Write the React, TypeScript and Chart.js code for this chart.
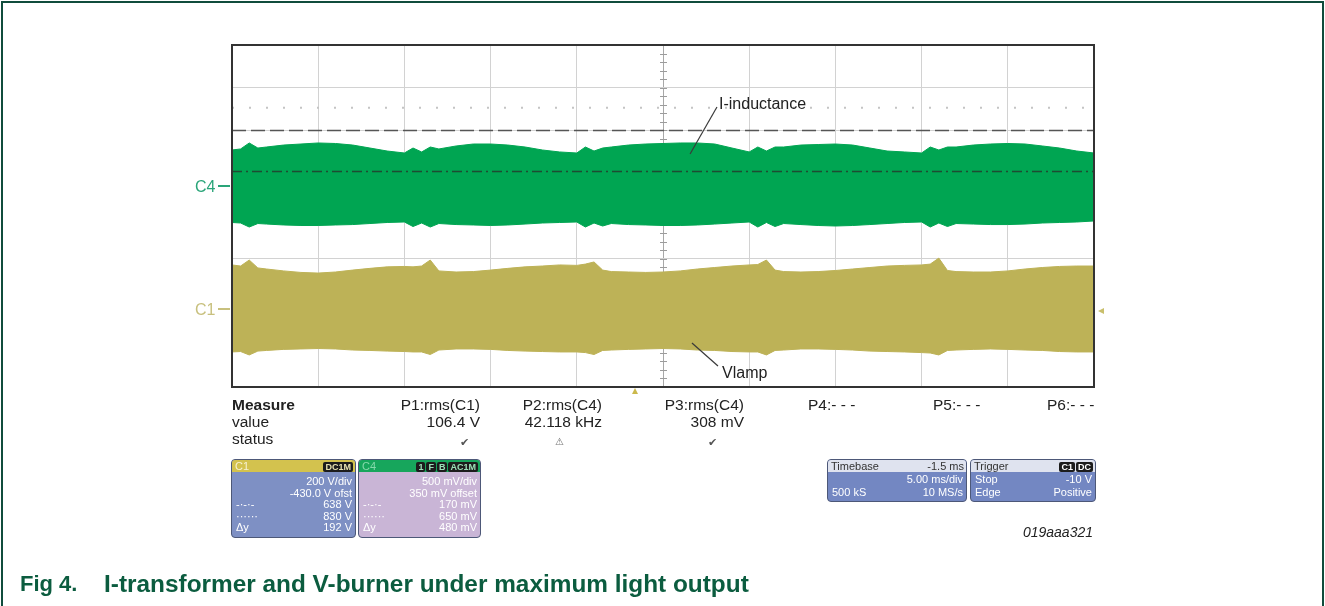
import React, { useEffect, useRef } from "react";
import { Chart, registerables } from "chart.js";

Chart.register(...registerables);

// ---------- data ----------
// sample times across the screen (ms), 5 ms/div, 10 divisions
const TIME_MS = [
  0, 0.5, 1, 1.5, 2, 3, 4, 5, 6, 7, 8, 9, 10, 10.5, 11, 11.5, 12, 13, 14, 15, 16, 17, 18, 19, 20,
  20.5, 21, 21.5, 22, 23, 24, 25, 26, 27, 28, 29, 30, 30.5, 31, 31.5, 32, 33, 34, 35, 36, 37, 38,
  39, 40, 40.5, 41, 41.5, 42, 43, 44, 45, 46, 47, 48, 49, 50,
];
// C4 (I-inductance) envelope, mV
const C4_TOP_MV = [
  422, 434, 504, 445, 457, 480, 492, 504, 498, 480, 445, 410, 387, 445, 399, 457, 434, 469, 492, 492,
  480, 457, 422, 399, 387, 457, 410, 445, 457, 480, 492, 498, 504, 504, 492, 445, 399, 457, 410, 457,
  457, 480, 486, 492, 480, 445, 410, 399, 387, 457, 422, 457, 457, 480, 492, 498, 492, 469, 445, 410, 387,
];
const C4_BOTTOM_MV = [
  -426, -432, -479, -438, -444, -455, -461, -461, -455, -450, -438, -426, -420, -473, -432, -479, -438,
  -450, -455, -461, -455, -444, -432, -426, -420, -479, -432, -467, -438, -450, -455, -461, -461, -455,
  -444, -432, -420, -479, -426, -473, -438, -450, -461, -467, -461, -450, -438, -426, -420, -479, -432,
  -473, -438, -444, -450, -450, -444, -432, -426, -420, -408,
];
// C1 (Vlamp) envelope, V
const C1_TOP_V = [
  201, 196, 224, 187, 182, 173, 166, 163, 168, 177, 185, 192, 194, 192, 196, 224, 173, 168, 170, 177,
  185, 192, 196, 201, 199, 205, 215, 177, 170, 168, 166, 168, 173, 182, 189, 196, 201, 203, 224, 177,
  170, 168, 170, 175, 182, 189, 196, 199, 201, 205, 233, 175, 170, 168, 168, 173, 182, 189, 194, 196, 196,
];
const C1_BOTTOM_V = [
  -206, -204, -220, -202, -199, -194, -192, -190, -192, -197, -199, -202, -204, -206, -206, -218, -197,
  -192, -192, -194, -199, -202, -204, -206, -206, -209, -218, -199, -197, -194, -192, -190, -192, -197,
  -199, -204, -206, -206, -220, -199, -197, -192, -192, -194, -197, -202, -204, -206, -209, -211, -220,
  -199, -197, -194, -192, -194, -197, -199, -204, -206, -206,
];
// cursors / reference levels (C4 units, mV)
const CURSOR_DASHDOT_MV = 170;
const CURSOR_DASHED_MV = 650;
const REF_DOTTED_MV = 915;
// screen ranges
const X_RANGE_MS = [0, 50];
const GRID_DIV_RANGE = [-4, 4];
const C4_RANGE_MV = [-2350, 1650]; // 500 mV/div, 350 mV offset
const C1_RANGE_V = [-370, 1230]; // 200 V/div, -430 V offset
// annotation leaders [time ms, divisions]
const LEADER_I_INDUCTANCE = [
  [26.57, 1.45],
  [28.13, 2.55],
];
const LEADER_VLAMP = [
  [26.68, -2.97],
  [28.19, -3.51],
];

const W = 1325;
const H = 606;
const FONT = '"Liberation Sans", Arial, Helvetica, sans-serif';
const GREEN = "#00a552";
const OLIVE = "#bdb257";

function Txt(props: {
  x: number;
  y: number;
  children: React.ReactNode;
  align?: "left" | "right";
  size?: number;
  color?: string;
  weight?: number;
  italic?: boolean;
  extra?: React.CSSProperties;
}) {
  const { x, y, children, align = "left", size = 15, color = "#222", weight = 400, italic = false } = props;
  const lh = Math.round(size * 1.2);
  const style: React.CSSProperties = {
    position: "absolute",
    top: y - lh / 2,
    fontSize: size,
    lineHeight: lh + "px",
    color,
    fontWeight: weight,
    fontStyle: italic ? "italic" : "normal",
    fontFamily: FONT,
    whiteSpace: "pre",
    ...(props.extra || {}),
  };
  if (align === "left") style.left = x;
  else style.right = W - x;
  return <div style={style}>{children}</div>;
}

function Badge(props: { children: React.ReactNode; color?: string }) {
  return (
    <span
      style={{
        background: "#1c1c1c",
        color: props.color || "#e6e0b0",
        borderRadius: 2,
        padding: "0 2px",
        marginLeft: 1,
        fontSize: 9,
        fontWeight: 700,
        lineHeight: "10px",
        display: "inline-block",
      }}
    >
      {props.children}
    </span>
  );
}

function ScopeBox(props: {
  left: number;
  top: number;
  width: number;
  height: number;
  headBg: string;
  headColor: string;
  bodyBg: string;
  headLeft: React.ReactNode;
  headRight: React.ReactNode;
  rows: string[][];
  rowH: number;
  padTop: number;
}) {
  const p = props;
  return (
    <div
      style={{
        position: "absolute",
        left: p.left,
        top: p.top,
        width: p.width,
        height: p.height,
        background: p.bodyBg,
        borderRadius: 4,
        border: "1px solid #4d5878",
        boxSizing: "border-box",
        overflow: "hidden",
        fontFamily: FONT,
        fontSize: 11,
        color: "#ffffff",
      }}
    >
      <div
        style={{
          height: 12,
          background: p.headBg,
          display: "flex",
          justifyContent: "space-between",
          alignItems: "center",
          padding: "0 2px 0 3px",
          color: p.headColor,
          lineHeight: "12px",
        }}
      >
        <span>{p.headLeft}</span>
        <span>{p.headRight}</span>
      </div>
      <div style={{ padding: `${p.padTop}px 3px 0 4px` }}>
        {p.rows.map((r, i) => (
          <div
            key={i}
            style={{ display: "flex", justifyContent: "space-between", height: p.rowH, lineHeight: p.rowH + "px" }}
          >
            <span>{r[0]}</span>
            <span>{r[1]}</span>
          </div>
        ))}
      </div>
    </div>
  );
}

export default function App() {
  const canvasRef = useRef<HTMLCanvasElement>(null);

  useEffect(() => {
    const canvas = canvasRef.current;
    if (!canvas) return;

    const decor = {
      id: "scopeDecor",
      beforeDatasetsDraw(chart: any) {
        const { ctx, scales } = chart;
        const xs = scales.x;
        const ys = scales.y;
        const cx = xs.getPixelForValue((X_RANGE_MS[0] + X_RANGE_MS[1]) / 2);
        const cy = ys.getPixelForValue(0);
        ctx.save();
        ctx.strokeStyle = "#9c9c9c";
        ctx.lineWidth = 1;
        ctx.beginPath();
        for (let v = GRID_DIV_RANGE[0]; v <= GRID_DIV_RANGE[1] + 1e-6; v += 0.2) {
          const py = Math.round(ys.getPixelForValue(v)) + 0.5;
          ctx.moveTo(cx - 3, py);
          ctx.lineTo(cx + 4, py);
        }
        for (let t = X_RANGE_MS[0]; t <= X_RANGE_MS[1] + 1e-6; t += 1) {
          const px = Math.round(xs.getPixelForValue(t)) + 0.5;
          ctx.moveTo(px, cy - 3);
          ctx.lineTo(px, cy + 4);
        }
        ctx.stroke();
        ctx.restore();
      },
      afterDatasetsDraw(chart: any) {
        const { ctx, chartArea, scales } = chart;
        const xs = scales.x;
        const ys = scales.y;
        ctx.save();
        ctx.strokeStyle = "#333333";
        ctx.lineWidth = 2;
        ctx.strokeRect(chartArea.left, chartArea.top, chartArea.right - chartArea.left, chartArea.bottom - chartArea.top);
        ctx.strokeStyle = "#3a3a3a";
        ctx.lineWidth = 1.2;
        [LEADER_I_INDUCTANCE, LEADER_VLAMP].forEach((seg) => {
          ctx.beginPath();
          ctx.moveTo(xs.getPixelForValue(seg[0][0]), ys.getPixelForValue(seg[0][1]));
          ctx.lineTo(xs.getPixelForValue(seg[1][0]), ys.getPixelForValue(seg[1][1]));
          ctx.stroke();
        });
        ctx.restore();
      },
    };

    const gridColor = (c: any) => (c.tick && c.tick.value === 25 ? "#a8a8a8" : "#d2d2d2");
    const gridColorY = (c: any) => (c.tick && c.tick.value === 0 ? "#a8a8a8" : "#d2d2d2");

    const flat = (v: number) => [
      { x: X_RANGE_MS[0], y: v },
      { x: X_RANGE_MS[1], y: v },
    ];

    const chart = new Chart(canvas, {
      type: "line",
      data: {
        labels: TIME_MS,
        datasets: [
          {
            label: "cursor 1",
            data: flat(CURSOR_DASHDOT_MV) as any,
            yAxisID: "c4",
            borderColor: "rgba(35,60,45,0.85)",
            borderWidth: 1.5,
            borderDash: [10, 4, 2, 4],
            pointRadius: 0,
            fill: false,
          },
          {
            label: "cursor 2",
            data: flat(CURSOR_DASHED_MV) as any,
            yAxisID: "c4",
            borderColor: "#555555",
            borderWidth: 1.5,
            borderDash: [14, 5],
            pointRadius: 0,
            fill: false,
          },
          {
            label: "ref",
            data: flat(REF_DOTTED_MV) as any,
            yAxisID: "c4",
            borderColor: "#c4c4c4",
            borderWidth: 2,
            borderDash: [2, 15],
            pointRadius: 0,
            fill: false,
          },
          {
            label: "C4 top",
            data: C4_TOP_MV,
            yAxisID: "c4",
            borderColor: GREEN,
            backgroundColor: GREEN,
            borderWidth: 1,
            pointRadius: 0,
            fill: "+1",
          },
          {
            label: "C4 bottom",
            data: C4_BOTTOM_MV,
            yAxisID: "c4",
            borderColor: GREEN,
            borderWidth: 1,
            pointRadius: 0,
            fill: false,
          },
          {
            label: "C1 top",
            data: C1_TOP_V,
            yAxisID: "c1",
            borderColor: OLIVE,
            backgroundColor: OLIVE,
            borderWidth: 1,
            pointRadius: 0,
            fill: "+1",
          },
          {
            label: "C1 bottom",
            data: C1_BOTTOM_V,
            yAxisID: "c1",
            borderColor: OLIVE,
            borderWidth: 1,
            pointRadius: 0,
            fill: false,
          },
        ],
      },
      options: {
        responsive: false,
        animation: false,
        events: [],
        layout: { padding: { left: 232, top: 45, right: W - 1094, bottom: H - 387 } },
        plugins: { legend: { display: false }, tooltip: { enabled: false }, title: { display: false } },
        elements: { line: { tension: 0 } },
        scales: {
          x: {
            type: "linear",
            min: X_RANGE_MS[0],
            max: X_RANGE_MS[1],
            ticks: { display: false, stepSize: 5 },
            grid: { color: gridColor as any, lineWidth: 1, drawTicks: false },
            border: { display: false },
          },
          y: {
            type: "linear",
            min: GRID_DIV_RANGE[0],
            max: GRID_DIV_RANGE[1],
            ticks: { display: false, stepSize: 1 },
            grid: { color: gridColorY as any, lineWidth: 1, drawTicks: false },
            border: { display: false },
          },
          c4: { type: "linear", display: false, min: C4_RANGE_MV[0], max: C4_RANGE_MV[1] },
          c1: { type: "linear", display: false, min: C1_RANGE_V[0], max: C1_RANGE_V[1] },
        },
      } as any,
      plugins: [decor],
    });
    return () => chart.destroy();
  }, []);

  const frame = "#104c3c";
  return (
    <div style={{ position: "absolute", left: 0, top: 0, width: W, height: H, background: "#fff", overflow: "hidden" }}>
      <canvas ref={canvasRef} width={W} height={H} style={{ position: "absolute", left: 0, top: 0 }} />
      {/* page frame */}
      <div style={{ position: "absolute", left: 1, top: 1, width: 1322, height: 2, background: frame }} />
      <div style={{ position: "absolute", left: 1, top: 1, width: 2, height: H, background: frame }} />
      <div style={{ position: "absolute", left: 1322, top: 1, width: 2, height: H, background: frame }} />

      {/* channel markers */}
      <Txt x={195} y={186} size={16} color="#2aa579">C4</Txt>
      <div style={{ position: "absolute", left: 218, top: 185, width: 12, height: 1.5, background: "#2aa579" }} />
      <Txt x={195} y={309} size={16} color="#c8c07e">C1</Txt>
      <div style={{ position: "absolute", left: 218, top: 308, width: 12, height: 1.5, background: "#c8c07e" }} />
      <div
        style={{
          position: "absolute",
          left: 1098,
          top: 308,
          width: 0,
          height: 0,
          borderTop: "3px solid transparent",
          borderBottom: "3px solid transparent",
          borderRight: "6px solid #c9bf6c",
        }}
      />
      <div
        style={{
          position: "absolute",
          left: 632,
          top: 388,
          width: 0,
          height: 0,
          borderLeft: "3.5px solid transparent",
          borderRight: "3.5px solid transparent",
          borderBottom: "6px solid #cbb94c",
        }}
      />

      {/* annotations */}
      <Txt x={719} y={103} size={16} color="#222">I-inductance</Txt>
      <Txt x={722} y={372} size={16} color="#222">Vlamp</Txt>

      {/* measure table */}
      <Txt x={232} y={404} size={15.5} weight={700} color="#222">Measure</Txt>
      <Txt x={232} y={421} size={15.5}>value</Txt>
      <Txt x={232} y={438} size={15.5}>status</Txt>
      <Txt x={480} y={404} size={15.5} align="right">P1:rms(C1)</Txt>
      <Txt x={480} y={421} size={15.5} align="right">106.4 V</Txt>
      <Txt x={460} y={442} size={11} color="#555">✔</Txt>
      <Txt x={602} y={404} size={15.5} align="right">P2:rms(C4)</Txt>
      <Txt x={602} y={421} size={15.5} align="right">42.118 kHz</Txt>
      <Txt x={555} y={442} size={10} color="#777">⚠</Txt>
      <Txt x={744} y={404} size={15.5} align="right">P3:rms(C4)</Txt>
      <Txt x={744} y={421} size={15.5} align="right">308 mV</Txt>
      <Txt x={708} y={442} size={11} color="#555">✔</Txt>
      <Txt x={808} y={404} size={15.5}>P4:- - -</Txt>
      <Txt x={933} y={404} size={15.5}>P5:- - -</Txt>
      <Txt x={1047} y={404} size={15.5}>P6:- - -</Txt>

      {/* scope info boxes */}
      <ScopeBox
        left={231}
        top={459}
        width={125}
        height={79}
        headBg="#d3c24e"
        headColor="#f7f2d4"
        bodyBg="#7e90c4"
        headLeft="C1"
        headRight={<Badge>DC1M</Badge>}
        rows={[
          ["", "200 V/div"],
          ["", "-430.0 V ofst"],
          ["-·-·-", "638 V"],
          ["······", "830 V"],
          ["Δy", "192 V"],
        ]}
        rowH={11.5}
        padTop={4}
      />
      <ScopeBox
        left={358}
        top={459}
        width={123}
        height={79}
        headBg="#17a65c"
        headColor="#86d9ab"
        bodyBg="#c9b5d6"
        headLeft="C4"
        headRight={
          <span>
            <Badge color="#9be0b8">1</Badge>
            <Badge color="#9be0b8">F</Badge>
            <Badge color="#9be0b8">B</Badge>
            <Badge color="#9be0b8">AC1M</Badge>
          </span>
        }
        rows={[
          ["", "500 mV/div"],
          ["", "350 mV offset"],
          ["-·-·-", "170 mV"],
          ["······", "650 mV"],
          ["Δy", "480 mV"],
        ]}
        rowH={11.5}
        padTop={4}
      />
      <ScopeBox
        left={827}
        top={459}
        width={140}
        height={43}
        headBg="#dfe3ef"
        headColor="#333"
        bodyBg="#7387c2"
        headLeft="Timebase"
        headRight="-1.5 ms"
        rows={[
          ["", "5.00 ms/div"],
          ["500 kS", "10 MS/s"],
        ]}
        rowH={13}
        padTop={1}
      />
      <ScopeBox
        left={970}
        top={459}
        width={126}
        height={43}
        headBg="#dfe3ef"
        headColor="#333"
        bodyBg="#7387c2"
        headLeft="Trigger"
        headRight={
          <span>
            <Badge color="#fff">C1</Badge>
            <Badge color="#fff">DC</Badge>
          </span>
        }
        rows={[
          ["Stop", "-10 V"],
          ["Edge", "Positive"],
        ]}
        rowH={13}
        padTop={1}
      />
      <Txt x={1093} y={532} size={14} italic align="right" color="#222">019aaa321</Txt>

      {/* caption */}
      <Txt x={20} y={584} size={22} weight={700} color="#0b5c3f">Fig 4.</Txt>
      <Txt
        x={104}
        y={584}
        size={23}
        weight={700}
        color="#0b5c3f"
        extra={{ transform: "scaleX(1.06)", transformOrigin: "left center" }}
      >
        I-transformer and V-burner under maximum light output
      </Txt>
    </div>
  );
}
